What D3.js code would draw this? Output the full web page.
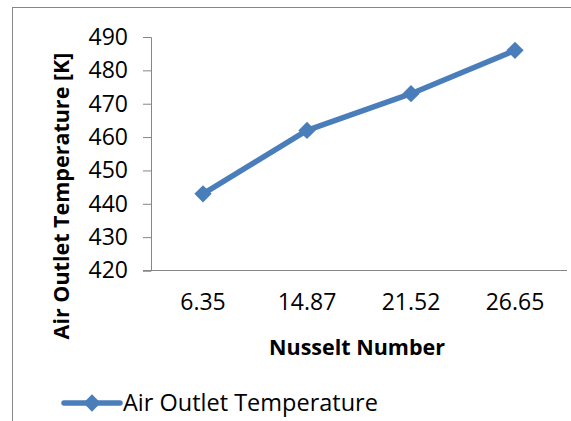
<!DOCTYPE html>
<html>
<head>
<meta charset="utf-8">
<script src="https://cdn.jsdelivr.net/npm/d3@7"></script>
<style>
  body { margin: 0; background: #fff; }
  text { font-family: "Open Sans", "Liberation Sans", sans-serif; fill: #000; }
</style>
</head>
<body>
<script>
// values
var nusselt = ["6.35", "14.87", "21.52", "26.65"];
var outletTemp = [443, 462, 473, 486];
var yTicks = [420, 430, 440, 450, 460, 470, 480, 490];

var width = 571,
    height = 421,
    margin = {top: 37, right: 4, bottom: 151, left: 151};

var blue = "#4a7ebb",
    axisGrey = "#868686";

var svg = d3.select("body").append("svg")
    .attr("width", width)
    .attr("height", height);

// outer chart frame
svg.append("rect")
    .attr("x", 12.5)
    .attr("y", 7.5)
    .attr("width", 570)
    .attr("height", 430)
    .attr("fill", "none")
    .attr("stroke", "#878787");

var x = d3.scaleBand()
    .domain(nusselt)
    .range([margin.left, width - margin.right]);

var y = d3.scaleLinear()
    .domain([420, 490])
    .range([height - margin.bottom + 0.5, margin.top]);

// y axis
var yAxis = svg.append("g")
    .attr("transform", "translate(" + margin.left + ",0)")
    .call(d3.axisLeft(y).tickValues(yTicks).tickSize(8).tickPadding(15));
yAxis.selectAll("text").style("font-size", "23px");
yAxis.selectAll("line, path").attr("stroke", axisGrey);

// x axis (no tick marks)
var xAxis = svg.append("g")
    .attr("transform", "translate(0," + y(420) + ")")
    .call(d3.axisBottom(x).tickSize(0).tickPadding(23));
xAxis.select(".domain").attr("d", "M143,0H" + (width - margin.right));
xAxis.selectAll("path").attr("stroke", axisGrey);
xAxis.selectAll("text").style("font-size", "23px");

// series line
var line = d3.line()
    .x(function(d, i) { return x(nusselt[i]) + x.bandwidth() / 2; })
    .y(function(d) { return y(d); });

svg.append("path")
    .datum(outletTemp)
    .attr("d", line)
    .attr("fill", "none")
    .attr("stroke", blue)
    .attr("stroke-width", 5.5)
    .attr("stroke-linejoin", "round");

var diamond = d3.symbol().type(d3.symbolDiamond2).size(190);

svg.selectAll(".marker")
    .data(outletTemp)
  .enter().append("path")
    .attr("class", "marker")
    .attr("d", diamond)
    .attr("fill", blue)
    .attr("transform", function(d, i) {
      return "translate(" + (x(nusselt[i]) + x.bandwidth() / 2) + "," + y(d) + ")";
    });

// axis titles
svg.append("text")
    .attr("x", 357)
    .attr("y", 347)
    .attr("dy", "0.35em")
    .attr("text-anchor", "middle")
    .style("font-size", "21.5px")
    .style("font-weight", "bold")
    .text("Nusselt Number");

svg.append("text")
    .attr("transform", "translate(61,196) rotate(-90)")
    .attr("dy", "0.35em")
    .attr("text-anchor", "middle")
    .style("font-size", "21.5px")
    .style("font-weight", "bold")
    .text("Air Outlet Temperature [K]");

// legend
var legend = svg.append("g").attr("transform", "translate(64,403)");
legend.append("line")
    .attr("x1", 0).attr("x2", 56)
    .attr("stroke", blue)
    .attr("stroke-width", 5.5)
    .attr("stroke-linecap", "round");
legend.append("path")
    .attr("d", diamond)
    .attr("fill", blue)
    .attr("transform", "translate(28,0)");
legend.append("text")
    .attr("x", 59)
    .attr("dy", "0.35em")
    .style("font-size", "23.5px")
    .text("Air Outlet Temperature");
</script>
</body>
</html>
